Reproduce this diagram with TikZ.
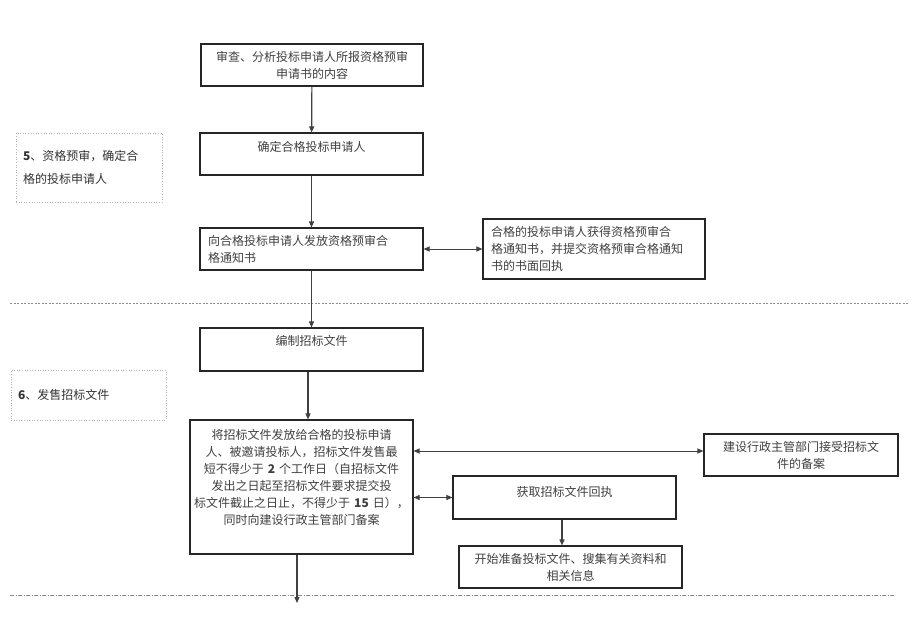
\documentclass[tikz,border=0pt]{standalone}
\usepackage{fontspec}
\setmainfont{Noto Sans CJK SC}
\usetikzlibrary{arrows.meta}

\begin{document}
\begin{tikzpicture}[x=1pt, y=-1pt,
        mbox/.style = {draw = black!85, line width = 1.1pt, text = black!75, inner xsep = 8pt, inner ysep = 3pt, font = \fontsize{12}{17}\selectfont},
        mlabel/.style = {draw = black!30, dotted, line width = 0.6pt, text = black!80, align = left, inner xsep = 7pt, font = \fontsize{12}{17}\selectfont},
        marrow/.style = {arrows = {-Triangle[length=6pt, width=5pt]}, line width = 1.2pt, black!75},
        marrowd/.style = {arrows = {Triangle[length=6pt, width=5pt]-Triangle[length=6pt, width=5pt]}, line width = 1pt, black!75},
        msep/.style = {black!45, line width = 0.9pt, dash pattern = on 2pt off 1.5pt}
        ]
        \fill[white] (0,0) rectangle (920,641);
        \useasboundingbox (0,0) rectangle (920,641);

        \node[mbox, text width = 206pt, minimum height = 42pt, align = center] (check) at (312,65) {审查、分析投标申请人所报资格预审\\申请书的内容};
        \node[mbox, text width = 207pt, minimum height = 42pt, align = center, text depth = 16pt] (confirm) at (311.5,154) {确定合格投标申请人};
        \node[mbox, text width = 207pt, minimum height = 42pt, align = left] (notice) at (311.5,249) {向合格投标申请人发放资格预审合\\格通知书};
        \node[mbox, text width = 206pt, minimum height = 60pt, align = left] (receipt) at (594,249) {合格的投标申请人获得资格预审合\\格通知书，并提交资格预审合格通知\\书的书面回执};

        \node[mbox, text width = 207pt, minimum height = 43pt, align = center, text depth = 18pt] (compile) at (311.5,349.5) {编制招标文件};
        \node[mbox, text width = 215pt, inner xsep = 4pt, minimum height = 134pt, align = center, text depth = 106pt] (issue) at (301.5,487) {将招标文件发放给合格的投标申请\\人、被邀请投标人，招标文件发售最\\短不得少于 \textbf{2} 个工作日（自招标文件\\发出之日起至招标文件要求提交投\\标文件截止之日止，不得少于 \textbf{15} 日），\\同时向建设行政主管部门备案};
        \node[mbox, text width = 178pt, minimum height = 42pt, align = center] (record) at (801,455) {建设行政主管部门接受招标文\\件的备案};
        \node[mbox, text width = 207pt, minimum height = 43pt, align = center, text depth = 12pt] (getback) at (564.5,497.5) {获取招标文件回执};
        \node[mbox, text width = 207pt, minimum height = 42pt, align = center] (prepare) at (570.5,567) {开始准备投标文件、搜集有关资料和\\相关信息};

        \node[mlabel, text width = 132pt, minimum height = 69pt] (step5) at (89,167.5) {\textbf{5}、资格预审，确定合\\[6pt]格的投标申请人};
        \node[mlabel, text width = 141pt, minimum height = 50pt] (step6) at (88.5,395) {\textbf{6}、发售招标文件};

        \draw[msep] (10,303) -- (908,303);
        \draw[msep, dash pattern = on 4pt off 1.5pt on 1pt off 1.5pt] (10,595) -- (895,595);

        \draw[marrow] (check) -- (confirm);
        \draw[marrow] (confirm) -- (notice);
        \draw[marrow] (notice) -- (compile);
        \draw[marrow] ([xshift=-3.5pt]compile.south) -- ([xshift=-3.5pt]compile.south |- issue.north);
        \draw[marrowd] (notice) -- (receipt);
        \draw[marrowd] ([yshift=4pt]record.west -| issue.east) -- ([yshift=4pt]record.west);
        \draw[marrowd] (getback.west -| issue.east) -- (getback.west);
        \draw[marrow] ([xshift=-2.5pt]getback.south) -- ([xshift=-2.5pt]getback.south |- prepare.north);

        \coordinate (next) at (297,603);
        \draw[marrow] (issue.south -| next) -- (next);

    \end{tikzpicture}
\end{document}
